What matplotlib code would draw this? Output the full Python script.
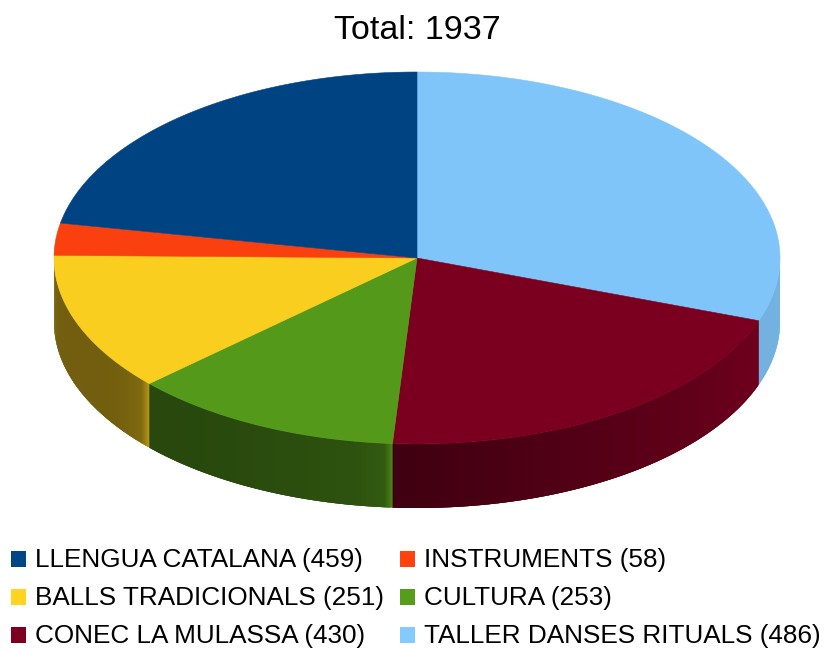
import numpy as np
import matplotlib
matplotlib.use('Agg')
import matplotlib.pyplot as plt
from matplotlib.patches import Rectangle

plt.rcParams['font.family'] = ['Liberation Sans', 'DejaVu Sans']

# legend order
labels = ['LLENGUA CATALANA', 'INSTRUMENTS', 'BALLS TRADICIONALS', 'CULTURA',
          'CONEC LA MULASSA', 'TALLER DANSES RITUALS']
values = [459, 58, 251, 253, 430, 486]
colors = ['#004586', '#ff420e', '#ffd320', '#579d1c', '#7e0021', '#83caff']

# order of the slices going clockwise from 12 o'clock
pie_order = [5, 4, 3, 2, 1, 0]

cx, cy = 417, 258
rx, ry = 363, 186
depth = 64


def warp(theta):
    # the 3D view pushes the slices round a bit, most at 3 o'clock
    return theta + np.interp(theta, [0, 90, 360], [0, 19.4, 0])


def rim(theta):
    t = np.radians(theta)
    return cx + rx * np.sin(t), cy - ry * np.cos(t)


def side_shade(idx, theta, start, end):
    # how dark the side wall gets, each slice has its own look
    if idx == 5:
        return 0.88
    if idx == 4:
        return np.interp(theta, [start, end], [0.88, 0.5])
    past = (theta - start) * rx * 0.0175 * abs(np.cos(np.radians(theta)))
    if idx == 3:
        return np.interp(past, [0, 8, 40, 200], [0.85, 0.58, 0.52, 0.45])
    if idx == 2:
        return np.interp(past, [0, 8, 30, 200], [0.72, 0.5, 0.45, 0.42])
    return 0.45


fig = plt.figure(figsize=(8.27, 6.5), dpi=100)
ax = fig.add_axes([0, 0, 1, 1])
ax.set_xlim(0, 827)
ax.set_ylim(650, 0)
ax.axis('off')

total = sum(values)
ax.text(417, 30.5, 'Total: %d' % total, fontsize=24.5, ha='center', va='center', color='black')

fracs = np.array([values[i] for i in pie_order]) / total * 360
edges = np.concatenate([[0], np.cumsum(fracs)])

# side wall first, only the front half can be seen
for k, idx in enumerate(pie_order):
    a0, a1 = warp(edges[k]), warp(edges[k + 1])
    lo, hi = max(a0, 90), min(a1, 270)
    if hi <= lo:
        continue
    base = np.array(matplotlib.colors.to_rgb(colors[idx]))
    steps = np.linspace(lo, hi, int(hi - lo) * 6 + 2)
    for j in range(len(steps) - 1):
        # each strip runs on under the next one so no seams show
        s0, s1 = steps[j], steps[min(j + 3, len(steps) - 1)]
        arc = np.linspace(s0, s1, 5)
        xs, ys = rim(arc)
        col = base * side_shade(idx, (steps[j] + steps[j + 1]) / 2, a0, a1)
        ax.fill(np.r_[xs, xs[::-1]], np.r_[ys, ys[::-1] + depth],
                color=col, lw=0, zorder=1)

# top of the pie
for k, idx in enumerate(pie_order):
    a0, a1 = warp(edges[k]), warp(edges[k + 1])
    th = np.linspace(a0, a1, 200)
    xs, ys = rim(th)
    top = np.array(matplotlib.colors.to_rgb(colors[idx])) * 0.975
    ax.fill(np.r_[cx, xs], np.r_[cy, ys], color=top, lw=0.4, zorder=2)

# legend
col_x = [11, 400]
row_y = [559, 597, 635]
for i, (name, val) in enumerate(zip(labels, values)):
    x = col_x[i % 2]
    y = row_y[i // 2]
    ax.add_patch(Rectangle((x, y - 8), 14.5, 15.5, color=colors[i], lw=0))
    ax.text(x + 24, y + 0.5, '%s (%d)' % (name, val), fontsize=18.8, ha='left', va='center', color='black')

fig.savefig('out.png', dpi=100)
